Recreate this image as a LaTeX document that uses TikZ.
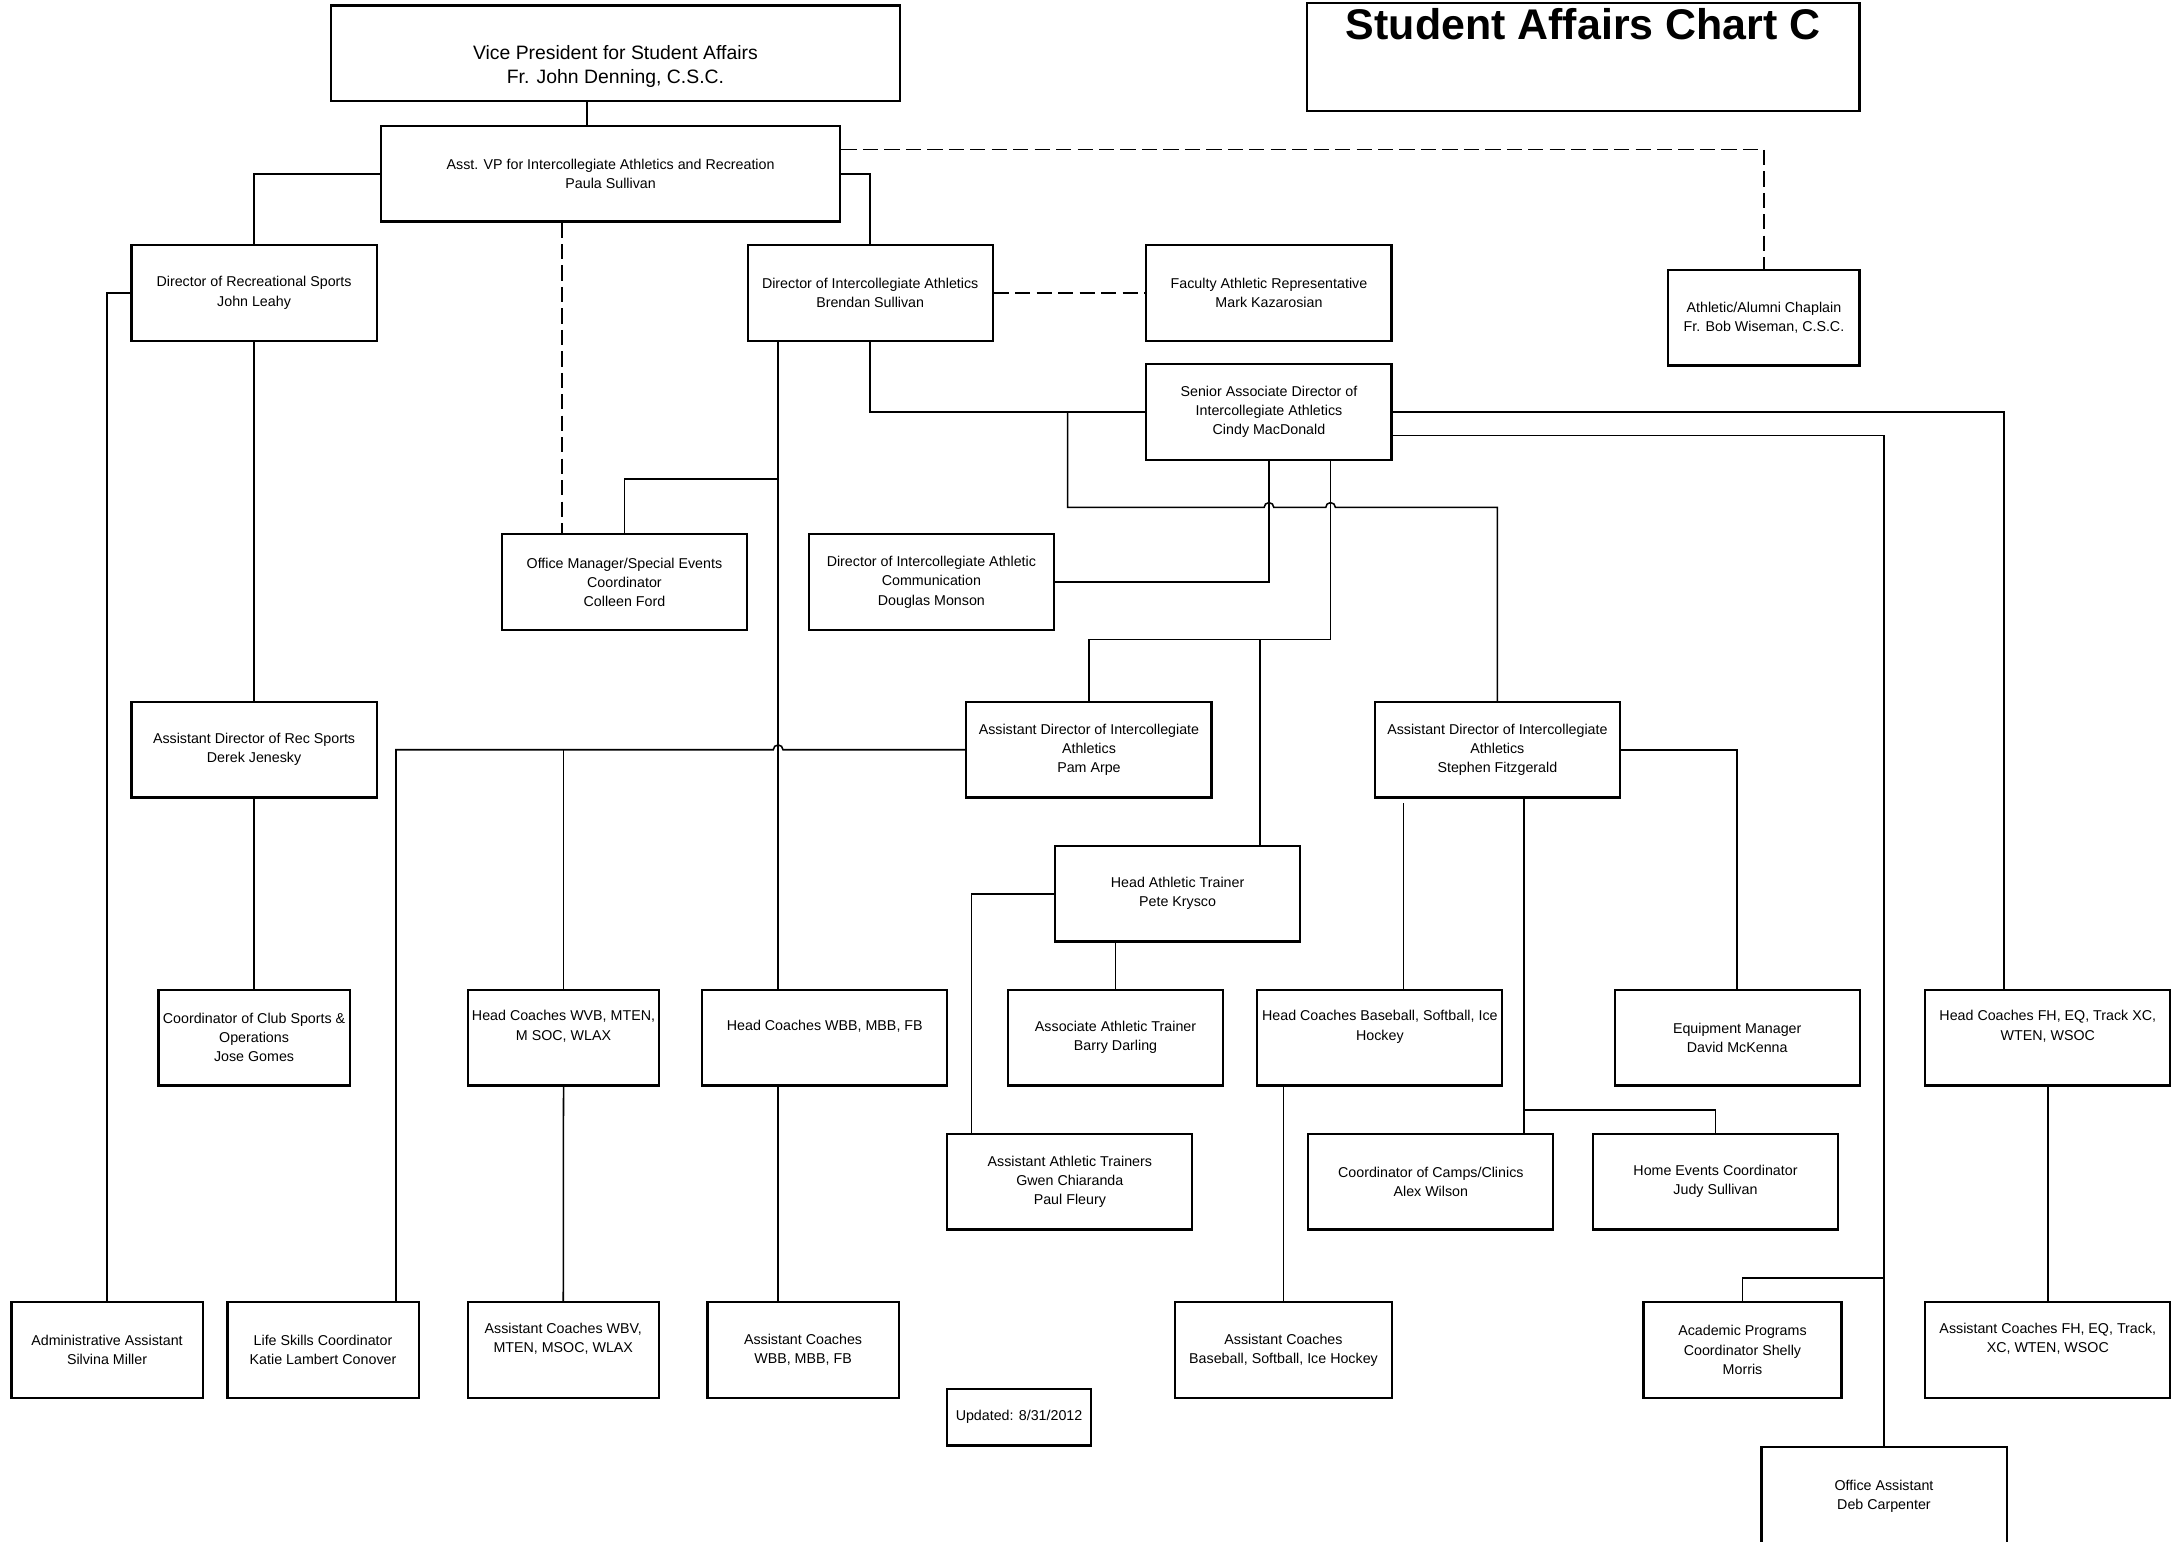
\documentclass[tikz,border=0pt]{standalone}
\usepackage{fontspec}
\setmainfont{Liberation Sans}
\usetikzlibrary{positioning,calc}

\begin{document}
\begin{tikzpicture}[x=1pt, y=-1pt,
    box/.style={draw, line width=1.5pt, align=center, inner sep=1pt,
        minimum width=177pt, minimum height=69pt, font=\fontsize{10.3}{13.8}\selectfont},
    narrowbox/.style={box, minimum width=138pt},
    link/.style={line width=1.1pt},
    dashlink/.style={line width=1.1pt, dash pattern=on 11pt off 4.5pt}]
    \useasboundingbox (0,0) rectangle (1568,1113);

    % Title
    \node[draw, line width=1.5pt, minimum width=399pt, minimum height=78pt] (chart) at (1143.5,41) {};
    \node[font=\fontsize{31}{36}\selectfont\bfseries, anchor=base] (charttitle) at (1143.5,28.7) {Student Affairs Chart C};

    % Top levels
    \node[box, minimum width=411pt] (vp) at (444.5,38.5) {};
    \node[font=\fontsize{14}{18}\selectfont, align=center] (vptext) at (444.5,48) {Vice President for Student Affairs\\Fr. John Denning, C.S.C.};
    \node[box, minimum width=332pt] (avp) at (441,125.5) {Asst. VP for Intercollegiate Athletics and Recreation\\Paula Sullivan};
    \node[box] (drs) at (183.5,211.5) {Director of Recreational Sports\\John Leahy};
    \node[box] (dia) at (628.5,211.5) {Director of Intercollegiate Athletics\\Brendan Sullivan};
    \node[box] (far) at (916.5,211.5) {Faculty Athletic Representative\\Mark Kazarosian};
    \node[narrowbox] (chap) at (1274,229.5) {Athletic/Alumni Chaplain\\Fr. Bob Wiseman, C.S.C.};
    \node[box] (sad) at (916.5,297.5) {Senior Associate Director of\\Intercollegiate Athletics\\Cindy MacDonald};

    % Middle levels
    \node[box] (om) at (451,420.5) {Office Manager/Special Events\\Coordinator\\Colleen Ford};
    \node[box] (diac) at (672.7,420.5) {Director of Intercollegiate Athletic\\Communication\\Douglas Monson};
    \node[box] (adrs) at (183.5,541.5) {Assistant Director of Rec Sports\\Derek Jenesky};
    \node[box] (adpa) at (786.5,541.5) {Assistant Director of Intercollegiate\\Athletics\\Pam Arpe};
    \node[box] (adsf) at (1081.5,541.5) {Assistant Director of Intercollegiate\\Athletics\\Stephen Fitzgerald};
    \node[box] (hat) at (850.5,645.5) {Head Athletic Trainer\\Pete Krysco};

    % Head coaches row
    \node[narrowbox] (ccs) at (183.5,749.5) {Coordinator of Club Sports \&\\Operations\\Jose Gomes};
    \node[narrowbox] (hcwvb) at (407,749.5) {Head Coaches WVB, MTEN,\\M SOC, WLAX\\\strut};
    \node[box] (hcwbb) at (595.7,749.5) {Head Coaches WBB, MBB, FB\\\strut};
    \node[box, minimum width=155pt] (assocat) at (805.7,749.5) {Associate Athletic Trainer\\Barry Darling};
    \node[box] (hcbase) at (996.6,749.5) {Head Coaches Baseball, Softball, Ice\\Hockey\\\strut};
    \node[box] (em) at (1254.7,749.5) {Equipment Manager\\David McKenna};
    \node[box] (hcfh) at (1479,749.5) {Head Coaches FH, EQ, Track XC,\\WTEN, WSOC\\\strut};
    \node[box] (aat) at (772.7,853.5) {Assistant Athletic Trainers\\Gwen Chiaranda\\Paul Fleury};
    \node[box] (ccc) at (1033.4,853.5) {Coordinator of Camps/Clinics\\Alex Wilson};
    \node[box] (hec) at (1239,853.5) {Home Events Coordinator\\Judy Sullivan};

    % Bottom row
    \node[narrowbox] (admin) at (77.3,975) {Administrative Assistant\\Silvina Miller};
    \node[narrowbox] (lsc) at (233.3,975) {Life Skills Coordinator\\Katie Lambert Conover};
    \node[narrowbox] (acwbv) at (406.8,975) {Assistant Coaches WBV,\\MTEN, MSOC, WLAX\\\strut};
    \node[narrowbox] (acwbb) at (580,975) {Assistant Coaches\\WBB, MBB, FB};
    \node[box, minimum width=104pt, minimum height=41pt] (upd) at (736,1023.5) {Updated: 8/31/2012};
    \node[box, minimum width=156.5pt] (acbase) at (927,975) {Assistant Coaches\\Baseball, Softball, Ice Hockey};
    \node[box, minimum width=143pt] (apc) at (1258.5,975) {Academic Programs\\Coordinator Shelly\\Morris};
    \node[box] (acfh) at (1479,975) {Assistant Coaches FH, EQ, Track,\\XC, WTEN, WSOC\\\strut};
    \node[box, minimum height=72pt] (oa) at (1360.7,1081) {Office Assistant\\Deb Carpenter};

    % Reporting lines
    \coordinate (vpdrop) at ([xshift=-20.5pt]vp.south);
    \draw[link] (vpdrop) -- (vpdrop |- avp.north);
    \draw[link] (avp.west) -| (drs.north);
    \draw[link] (avp.east) -| (dia.north);
    \draw[link] (drs.west) -| (admin.north);
    \draw[link] (drs.south) -- (adrs.north);
    \draw[link] (adrs.south) -- (ccs.north);

    % Dashed links
    \coordinate (omdash) at ([xshift=-45pt]om.north);
    \draw[dashlink] (omdash |- avp.south) -- (omdash);
    \draw[dashlink] ([yshift=17.5pt]avp.east) -| (chap.north);
    \draw[dashlink] (dia.east) -- (far.west);

    % Director of Intercollegiate Athletics
    \coordinate (diadrop) at ([xshift=-66.5pt]dia.south);
    \coordinate (sadb) at ([xshift=44.5pt]sad.south);
    \coordinate (adsfsplit) at (771,0 |- sad.west);
    \draw[link] (diadrop) -- (diadrop |- hcwbb.north);
    \draw[link] (diadrop |- 0,346) -| (om.north);
    \draw[link] (diadrop |- hcwbb.south) -- (diadrop |- acwbb.north);
    \draw[link] (dia.south) |- (sad.west);
    \draw[link] (adsfsplit) -- (adsfsplit |- 0,366.5)
        -- ($(sad.south |- 0,366.5)+(-3.5,0)$) arc[start angle=180, end angle=0, radius=3.5pt]
        -- ($(sadb |- 0,366.5)+(-3.5,0)$) arc[start angle=180, end angle=0, radius=3.5pt]
        -| (adsf.north);

    % Senior Associate Director
    \coordinate (hatin) at ([xshift=59.5pt]hat.north);
    \coordinate (hcfhin) at ([xshift=-31.5pt]hcfh.north);
    \draw[link] (sad.south) |- (diac.east);
    \draw[link] (sadb) |- (adpa.north |- 0,462) -- (adpa.north);
    \draw[link] (hatin |- 0,462) -- (hatin);
    \draw[link] (sad.east) -| (hcfhin);
    \draw[link] ([yshift=-17pt]sad.east) -| (oa.north);
    \draw[link] (oa.north |- 0,923) -| (apc.north);

    % Assistant Director Pam Arpe
    \coordinate (lscin) at ([xshift=52.7pt]lsc.north);
    \draw[link] (adpa.west) -- ($(diadrop |- adpa.west)+(3.5,0)$)
        arc[start angle=0, end angle=180, radius=3.5pt] -| (lscin);
    \draw[link] (hcwvb.north) -- (hcwvb.north |- adpa.west);
    \draw[link] (hcwvb.south) -- (acwbv.north);

    % Head Athletic Trainer
    \coordinate (aatin) at ([xshift=-71pt]aat.north);
    \draw[link] (hat.west) -| (aatin);
    \draw[link] (assocat.north) -- (assocat.north |- hat.south);

    % Assistant Director Stephen Fitzgerald
    \coordinate (hcbin) at ([xshift=17pt]hcbase.north);
    \coordinate (cccin) at ([xshift=67.3pt]ccc.north);
    \draw[link] (adsf.east) -| (em.north);
    \draw[link] ($(hcbin |- adsf.south)+(0,3.5)$) -- (hcbin);
    \draw[link] (cccin |- adsf.south) -- (cccin);
    \draw[link] (cccin |- 0,801.5) -| (hec.north);
    \draw[link] (acbase.north) -- (acbase.north |- hcbase.south);
    \draw[link] (hcfh.south) -- (acfh.north);
\end{tikzpicture}
\end{document}
